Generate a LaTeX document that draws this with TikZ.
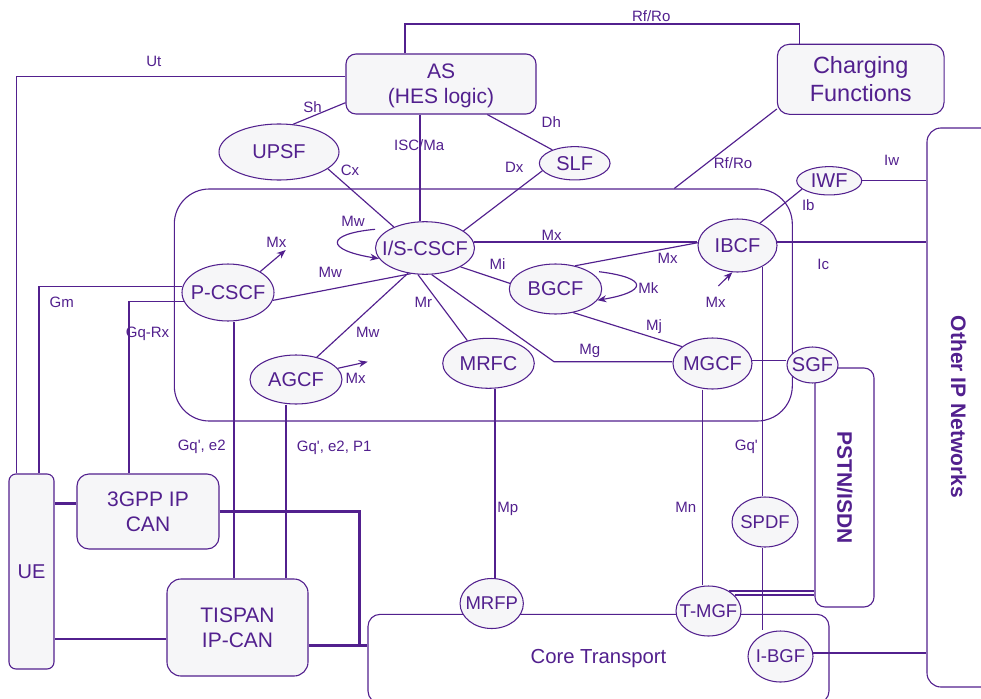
\documentclass[tikz,border=0pt]{standalone}
\usepackage{fontspec}
\setmainfont{Liberation Sans}
\usetikzlibrary{shapes.geometric,arrows.meta}
\definecolor{pl}{RGB}{82,32,142}
\definecolor{bgc}{RGB}{246,246,248}
\pgfdeclarelayer{back}
\pgfdeclarelayer{lines}
\pgfsetlayers{back,lines,main}
\begin{document}
\begin{tikzpicture}[x=1pt,y=-1pt,
  ln/.style={draw=pl, line width=1.15pt},
  thk/.style={draw=pl, line width=2.8pt},
  dbl/.style={draw=pl, line width=1.9pt},
  ell/.style={ellipse, draw=pl, fill=bgc, line width=1.05pt, inner sep=0pt},
  bx/.style={rectangle, draw=pl, fill=bgc, line width=1.1pt, align=center, text=pl, inner sep=0pt, text depth=0pt},
  frm/.style={rectangle, draw=pl, line width=1.1pt, inner sep=0pt, text=pl},
  lbl/.style={text=pl, font=\fontsize{15}{18}\selectfont, anchor=base, inner sep=0pt},
  bigtxt/.style={text=pl, font=\bfseries\fontsize{21}{24}\selectfont, rotate=-90, inner sep=0pt},
  tip/.style={-{Stealth[length=9pt,width=7pt]}},
  every label/.style={text=pl, inner sep=0pt, font=\fontsize{20}{24}\selectfont},
  smalllab/.style={font=\fontsize{18.5}{22}\selectfont}
]
\begin{pgfonlayer}{back}
\fill[white] (0,0) rectangle (981,698);
\end{pgfonlayer}
\useasboundingbox (0,0) rectangle (981,698);

% frames
\node[frm, rounded corners=35pt, minimum width=618pt, minimum height=232pt] (ims) at (483.3,305) {};
\node[frm, rounded corners=12pt, minimum width=461pt, minimum height=88.7pt, font=\fontsize{20.3}{24}\selectfont] (core) at (598.5,658.7) {Core Transport};
\node[frm, rounded corners=14pt, minimum width=85pt, minimum height=559pt] (other) at (969.5,407.5) {};
\node[frm, rounded corners=10pt, minimum width=59pt, minimum height=239pt] (pstn) at (844.5,487.5) {};
\node[bigtxt] (tother) at (958.5,407) {Other IP Networks};
\node[bigtxt] (tpstn) at (844.7,487.5) {PSTN/ISDN};

% boxes
\node[bx, rounded corners=10pt, minimum width=190pt, minimum height=60pt, font=\fontsize{21}{24.7}\selectfont] (as) at (441,84) {AS\\(HES logic)};
\node[bx, rounded corners=12pt, minimum width=166.7pt, minimum height=70pt, font=\fontsize{23.5}{28.3}\selectfont] (charging) at (860.7,79.3) {Charging\\Functions};
\node[bx, rounded corners=7pt, minimum width=45pt, minimum height=195pt, font=\fontsize{20}{24}\selectfont] (ue) at (31.5,571.5) {UE};
\node[bx, rounded corners=12pt, minimum width=142pt, minimum height=75pt, font=\fontsize{21}{25}\selectfont] (gpp) at (148,511.5) {3GPP IP\\CAN};
\node[bx, rounded corners=14pt, minimum width=141pt, minimum height=97pt, font=\fontsize{21}{24.7}\selectfont] (tispan) at (237.5,627.5) {TISPAN\\IP-CAN};

% ellipses
\node[ell, minimum width=120pt, minimum height=56pt, label=center:UPSF] (upsf) at (279,152) {};
\node[ell, minimum width=70.7pt, minimum height=33.3pt, label=center:SLF] (slf) at (574.7,163.3) {};
\node[ell, minimum width=99pt, minimum height=52.6pt, label=center:I/S-CSCF] (iscscf) at (425,248) {};
\node[ell, minimum width=92pt, minimum height=57pt, label=center:P-CSCF] (pcscf) at (228,292.5) {};
\node[ell, minimum width=92pt, minimum height=49pt, label=center:AGCF] (agcf) at (296,379.5) {};
\node[ell, minimum width=92.4pt, minimum height=50pt, label=center:BGCF] (bgcf) at (555.5,289) {};
\node[ell, minimum width=91.6pt, minimum height=50pt, label=center:MRFC] (mrfc) at (488.5,363.3) {};
\node[ell, minimum width=79pt, minimum height=53pt, label=center:IBCF] (ibcf) at (737.5,245.5) {};
\node[ell, minimum width=65pt, minimum height=28.3pt, label=center:IWF] (iwf) at (829.2,180.8) {};
\node[ell, minimum width=79pt, minimum height=51pt, label=center:MGCF] (mgcf) at (712.5,363.5) {};
\node[ell, minimum width=51pt, minimum height=36pt, label=center:SGF] (sgf) at (812.5,365) {};
\node[ell, minimum width=66pt, minimum height=50pt, label={[smalllab]center:SPDF}] (spdf) at (765,522) {};
\node[ell, minimum width=65pt, minimum height=50pt, label={[smalllab]center:T-MGF}] (tmgf) at (708.5,611) {};
\node[ell, minimum width=65pt, minimum height=51pt, label={[smalllab]center:I-BGF}] (ibgf) at (780.5,656.5) {};
\node[ell, minimum width=63.3pt, minimum height=50pt, label={[smalllab]center:MRFP}] (mrfp) at (491.7,603.5) {};

% helper coordinates
\coordinate (rfA) at ([xshift=-36pt]as.north);
\coordinate (rfB) at ([xshift=-61.4pt]charging.north);
\coordinate (rfbend) at (600,24);
\coordinate (utA) at ([yshift=7.3pt]as.west);
\coordinate (utB) at ([xshift=-14.8pt]ue.north);
\coordinate (gmB) at ([xshift=7.5pt]ue.north);
\coordinate (gqB) at ([xshift=-19pt]gpp.north);
\coordinate (tpA) at ([xshift=-3.5pt]tispan.north);
\coordinate (taA) at ([xshift=48.5pt]tispan.north);
\coordinate (shA) at ([yshift=-18.7pt]as.west);
\coordinate (iscA) at ([xshift=-21pt]as.south);
\coordinate (dhA) at ([xshift=46.3pt]as.south);
\coordinate (rf2A) at ([yshift=-29.7pt]charging.west);
\coordinate (rf2B) at ([xshift=191pt]ims.north);
\coordinate (mx3) at (718.3,286);
\coordinate (mnA) at ([xshift=-9.8pt]mgcf.south);
\coordinate (mpA) at ([xshift=6.5pt]mrfc.south);
\coordinate (mgbend) at (554,361.7);
\coordinate (mxp) at (285.7,250);
\coordinate (mxa) at (367.7,361.7);
\coordinate (mwA) at (375,229.3);
\coordinate (mkA) at (599,271.7);
\coordinate (u3) at ([yshift=8pt]gpp.west);
\coordinate (utis) at ([yshift=-11.5pt]tispan.west);
\coordinate (jn) at (359.3,645.5);
\coordinate (tc) at ([yshift=-18pt]tispan.east);

\begin{pgfonlayer}{lines}
\draw[ln] (rfA) |- (rfbend) -| (rfB);
\draw[ln] (utA) -| (utB);
\draw[ln] (pcscf.173) -| (gmB);
\draw[ln] (pcscf.192) -| (gqB);
\draw[ln] (tpA) -- (tpA |- pcscf.south);
\draw[ln] (taA) -- (taA |- agcf.south);
\draw[ln] (shA) -- (upsf.63);
\draw[ln] (upsf.341) -- (iscscf.146);
\draw[ln] (iscA) -- (iscA |- iscscf.north);
\draw[ln] (dhA) -- (slf.149);
\draw[ln] (slf.193) -- (iscscf.24);
\draw[ln] (rf2A) -- (rf2B);
\draw[ln] (iwf.east) -- (iwf.east -| other.west);
\draw[ln] (ibcf.45) -- (iwf.197);
\draw[ln] (iscscf.7.5) -- (iscscf.7.5 -| ibcf.west);
\draw[ln] (ibcf.5) -- (ibcf.5 -| other.west);
\draw[ln] (bgcf.50) -- (ibcf.176);
\draw[ln,tip] (mx3) -- (ibcf.259);
\draw[ln] (ibcf.320) -- (ibcf.320 |- spdf.north);
\draw[ln] (ibcf.320 |- spdf.south) -- (ibcf.320 |- ibgf.north);
\draw[ln] (mnA) -- (mnA |- tmgf.north);
\draw[ln] (mpA) -- (mpA |- mrfp.north);
\draw[ln] (mgcf.4) -- (mgcf.4 -| sgf.west);
\draw[ln] (iscscf.284) -- (mgbend) -- (mgbend -| mgcf.west);
\draw[ln] (bgcf.307) -- (mgcf.151);
\draw[ln] (iscscf.255) -- (mrfc.133);
\draw[ln] (iscscf.332) -- (bgcf.173);
\draw[ln] (pcscf.350) -- (iscscf.241);
\draw[ln] (agcf.47) -- (iscscf.236);
\draw[ln,tip] (pcscf.33) -- (mxp);
\draw[ln,tip] (agcf.15) -- (mxa);
\draw[ln,tip] (mwA) .. controls (325,234) and (325,250) .. (iscscf.193);
\draw[ln,tip] (mkA) .. controls (650,278) and (647,292) .. (bgcf.345);
% thick transport links
\draw[thk] (u3) -- (u3 -| ue.east);
\draw[thk] (utis) -- (utis -| ue.east);
\draw[thk] (gpp.east) -| (jn);
\draw[thk] (tc) -- (tc -| core.west);
\draw[dbl] (tmgf.44) -- (tmgf.44 -| pstn.west);
\draw[dbl] (tmgf.31) -- (tmgf.31 -| pstn.west);
\draw[thk] (ibgf.6) -- (ibgf.6 -| other.west);
\end{pgfonlayer}

% interface labels
\node[lbl] (l1) at (651.2,21.7) {Rf/Ro};
\node[lbl] (l2) at (153.8,66.7) {Ut};
\node[lbl] (l3) at (312.5,112.7) {Sh};
\node[lbl] (l4) at (419.2,150.7) {ISC/Ma};
\node[lbl] (l5) at (350,175.7) {Cx};
\node[lbl] (l6) at (551.3,127.7) {Dh};
\node[lbl] (l7) at (514.2,172.3) {Dx};
\node[lbl] (l8) at (733,168.3) {Rf/Ro};
\node[lbl] (l9) at (891.7,165) {Iw};
\node[lbl] (l10) at (808.3,210.7) {Ib};
\node[lbl] (l11) at (823.2,269.3) {Ic};
\node[lbl] (l12) at (551.7,240.7) {Mx};
\node[lbl] (l13) at (667.7,263.3) {Mx};
\node[lbl] (l14) at (715.7,307.3) {Mx};
\node[lbl] (l15) at (497.5,269) {Mi};
\node[lbl] (l16) at (648.3,293.3) {Mk};
\node[lbl] (l17) at (654,330) {Mj};
\node[lbl] (l18) at (589.7,354) {Mg};
\node[lbl] (l19) at (353,226.7) {Mw};
\node[lbl] (l20) at (330.3,277) {Mw};
\node[lbl] (l21) at (276.3,247.3) {Mx};
\node[lbl] (l22) at (423.3,307.3) {Mr};
\node[lbl] (l23) at (367.8,337.3) {Mw};
\node[lbl] (l24) at (355.7,383.3) {Mx};
\node[lbl] (l25) at (61.7,307.3) {Gm};
\node[lbl] (l26) at (147.5,337.3) {Gq-Rx};
\node[lbl] (l27) at (201.7,450) {Gq\textquotesingle, e2};
\node[lbl] (l28) at (334.2,451.7) {Gq\textquotesingle, e2, P1};
\node[lbl] (l29) at (746.3,450.7) {Gq\textquotesingle};
\node[lbl] (l30) at (507.8,512.7) {Mp};
\node[lbl] (l31) at (685.8,512.7) {Mn};
\end{tikzpicture}
\end{document}
